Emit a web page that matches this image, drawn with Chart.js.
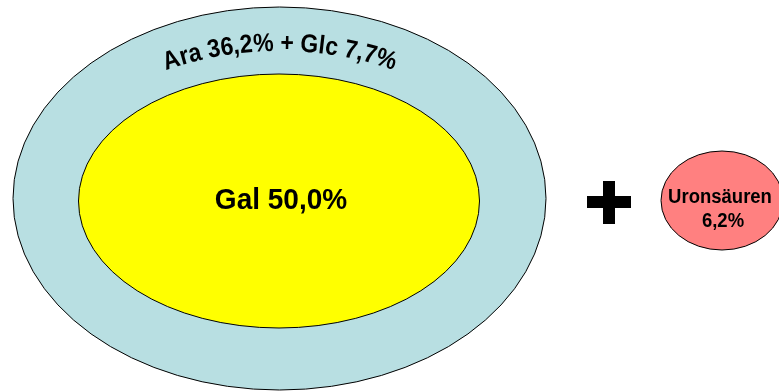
<!DOCTYPE html>
<html>
<head>
<meta charset="utf-8">
<script src="https://cdn.jsdelivr.net/npm/chart.js@4.4.1/dist/chart.umd.min.js"></script>
<style>
html,body{margin:0;padding:0;background:#fff;}
#wrap{width:779px;height:392px;position:relative;}
</style>
</head>
<body>
<div id="wrap"><canvas id="c" width="779" height="392"></canvas></div>
<script>
// ---- data ----
const categories = ['Gal', 'Ara', 'Glc', 'Uronsäuren'];
const values = [50.0, 36.2, 7.7, 6.2];

// ---- layout (axis units, 1 unit = 1 px) ----
const shapes = {
  outer:  { cx: 279.5, cy: 198.5, rx: 266.5, ry: 191.5, fill: '#B8DFE2' },
  inner:  { cx: 279,   cy: 201,   rx: 200.5, ry: 127,   fill: '#FFFF00' },
  uronic: { cx: 722,   cy: 200.5, rx: 61,    ry: 49.5,  fill: '#FF8080' }
};
const arcText = { cx: 280, cy: 200, rx: 232, ry: 149 };
const plusSign = { cx: 609, cy: 202, arm: 22, thick: 12 };

function fmt(v){ return v.toFixed(1).replace('.', ',') + '%'; }
const galLabel = categories[0] + ' ' + fmt(values[0]);
const ringLabel = categories[1] + ' ' + fmt(values[1]) + ' + ' + categories[2] + ' ' + fmt(values[2]);
const uroLabel = [categories[3], fmt(values[3])];

const FONT = '"Liberation Sans", Arial, sans-serif';

function ellipsePx(chart, s){
  const xs = chart.scales.x, ys = chart.scales.y;
  const x = xs.getPixelForValue(s.cx), y = ys.getPixelForValue(s.cy);
  const rx = Math.abs(xs.getPixelForValue(s.cx + s.rx) - x);
  const ry = Math.abs(ys.getPixelForValue(s.cy + s.ry) - y);
  return {x, y, rx, ry};
}

function drawEllipse(ctx, e, fill){
  ctx.beginPath();
  ctx.ellipse(e.x, e.y, e.rx, e.ry, 0, 0, Math.PI*2);
  ctx.fillStyle = fill;
  ctx.fill();
  ctx.lineWidth = 1;
  ctx.strokeStyle = '#000';
  ctx.stroke();
}

function textOnEllipse(ctx, e, text, font, vScale){
  ctx.save();
  ctx.font = font;
  ctx.fillStyle = '#000';
  ctx.textAlign = 'center';
  ctx.textBaseline = 'alphabetic';
  const N = 2000, ts = [], ss = [];
  let s = 0, px = e.x - e.rx, py = e.y;
  for(let i=0;i<=N;i++){
    const t = -Math.PI + Math.PI*i/N;
    const x = e.x + e.rx*Math.cos(t), y = e.y + e.ry*Math.sin(t);
    if(i>0) s += Math.hypot(x-px, y-py);
    ts.push(t); ss.push(s); px=x; py=y;
  }
  const mid = ss[N/2];
  function tAt(sv){
    let lo=0, hi=N;
    while(hi-lo>1){ const m=(lo+hi)>>1; if(ss[m]<sv) lo=m; else hi=m; }
    return ts[lo];
  }
  const chars = Array.from(text);
  const widths = chars.map(c=>ctx.measureText(c).width);
  const W = widths.reduce((a,b)=>a+b,0);
  let pos = mid - W/2;
  chars.forEach((c,i)=>{
    const sc = pos + widths[i]/2;
    const t = tAt(sc);
    const x = e.x + e.rx*Math.cos(t), y = e.y + e.ry*Math.sin(t);
    const ang = Math.atan2(e.ry*Math.cos(t), -e.rx*Math.sin(t));
    ctx.save();
    ctx.translate(x,y);
    ctx.rotate(ang);
    ctx.scale(1, vScale);
    ctx.fillText(c,0,0);
    ctx.restore();
    pos += widths[i];
  });
  ctx.restore();
}

const shapePlugin = {
  id: 'shapes',
  afterDatasetsDraw(chart){
    const ctx = chart.ctx;
    ctx.save();
    const o = ellipsePx(chart, shapes.outer);
    const i = ellipsePx(chart, shapes.inner);
    const u = ellipsePx(chart, shapes.uronic);
    drawEllipse(ctx, o, shapes.outer.fill);
    drawEllipse(ctx, i, shapes.inner.fill);
    drawEllipse(ctx, u, shapes.uronic.fill);

    // plus sign
    const xs = chart.scales.x, ys = chart.scales.y;
    const pcx = xs.getPixelForValue(plusSign.cx), pcy = ys.getPixelForValue(plusSign.cy);
    ctx.fillStyle = '#000';
    ctx.fillRect(pcx - plusSign.arm, pcy - plusSign.thick/2, plusSign.arm*2, plusSign.thick);
    ctx.fillRect(pcx - plusSign.thick/2, pcy - plusSign.arm + 1, plusSign.thick, plusSign.arm*2 - 1);

    // labels
    ctx.fillStyle = '#000';
    ctx.textAlign = 'center';
    ctx.textBaseline = 'alphabetic';
    ctx.save();
    ctx.translate(i.x + 2, 209);
    ctx.scale(1.0, 1.06);
    ctx.font = 'bold 28px ' + FONT;
    ctx.fillText(galLabel, 0, 0);
    ctx.restore();
    ctx.save();
    ctx.translate(720, 203);
    ctx.scale(1.0, 1.08);
    ctx.font = 'bold 18.5px ' + FONT;
    ctx.fillText(uroLabel[0], 0, 0);
    ctx.fillText(uroLabel[1], 3, 22);
    ctx.restore();

    textOnEllipse(ctx, ellipsePx(chart, arcText), ringLabel, 'bold 23px ' + FONT, 1.12);
    ctx.restore();
  }
};

new Chart(document.getElementById('c'), {
  type: 'scatter',
  data: {
    datasets: [
      { label: categories[0], data: [{x: shapes.inner.cx, y: shapes.inner.cy}], pointRadius: 0 },
      { label: categories[1] + '+' + categories[2], data: [{x: shapes.outer.cx, y: shapes.outer.cy}], pointRadius: 0 },
      { label: categories[3], data: [{x: shapes.uronic.cx, y: shapes.uronic.cy}], pointRadius: 0 }
    ]
  },
  options: {
    responsive: false,
    animation: false,
    layout: { padding: 0 },
    plugins: { legend: { display: false }, tooltip: { enabled: false } },
    scales: {
      x: { type: 'linear', min: 0, max: 779, display: false },
      y: { type: 'linear', min: 0, max: 392, reverse: true, display: false }
    }
  },
  plugins: [shapePlugin]
});
</script>
</body>
</html>
